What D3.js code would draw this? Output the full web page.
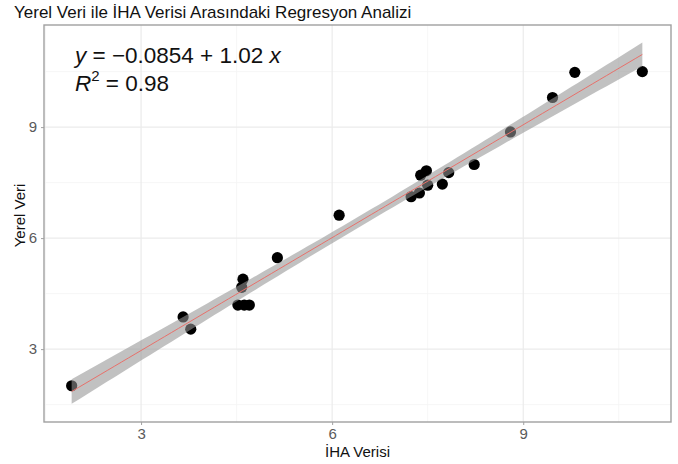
<!DOCTYPE html>
<html>
<head>
<meta charset="utf-8">
<script src="https://cdn.jsdelivr.net/npm/d3@7"></script>
<style>
  body { margin: 0; background: #fff; }
  svg { display: block; font-family: "Liberation Sans", Arial, sans-serif; }
</style>
</head>
<body>
<div id="chart"></div>
<script>
const ihaVerisi = [1.91, 3.66, 3.78, 4.60, 4.58, 4.52, 4.62, 4.70, 5.14, 6.11,
  7.39, 7.48, 7.24, 7.37, 7.50, 7.73, 7.83, 8.23, 8.80, 9.46, 9.81, 10.87]
const yerelVeri = [2.01, 3.87, 3.54, 4.89, 4.67, 4.19, 4.19, 4.19, 5.47, 6.62,
  7.70, 7.82, 7.12, 7.22, 7.43, 7.46, 7.77, 7.99, 8.87, 9.80, 10.48, 10.50]
const xTicks = [3, 6, 9]
const yTicks = [3, 6, 9]
const xMinor = [1.5, 4.5, 7.5, 10.5]
const yMinor = [1.5, 4.5, 7.5, 10.5]

const width = 678
const height = 464
const panel = { left: 44, right: 671, top: 25, bottom: 422 }

const svg = d3.select("#chart").append("svg")
  .attr("width", width)
  .attr("height", height)

const x = d3.scaleLinear().domain([1.476, 11.32]).range([panel.left, panel.right])
const y = d3.scaleLinear().domain([1.03, 11.76]).range([panel.bottom, panel.top])

// grid
const grid = svg.append("g")
grid.selectAll(".xmin").data(xMinor).enter().append("line")
  .attr("x1", d => x(d)).attr("x2", d => x(d))
  .attr("y1", panel.top).attr("y2", panel.bottom)
  .attr("stroke", "#f4f4f4").attr("stroke-width", 0.8)
grid.selectAll(".ymin").data(yMinor).enter().append("line")
  .attr("y1", d => y(d)).attr("y2", d => y(d))
  .attr("x1", panel.left).attr("x2", panel.right)
  .attr("stroke", "#f4f4f4").attr("stroke-width", 0.8)
grid.selectAll(".xmaj").data(xTicks).enter().append("line")
  .attr("x1", d => x(d)).attr("x2", d => x(d))
  .attr("y1", panel.top).attr("y2", panel.bottom)
  .attr("stroke", "#ebebeb").attr("stroke-width", 1.2)
grid.selectAll(".ymaj").data(yTicks).enter().append("line")
  .attr("y1", d => y(d)).attr("y2", d => y(d))
  .attr("x1", panel.left).attr("x2", panel.right)
  .attr("stroke", "#ebebeb").attr("stroke-width", 1.2)

// linear fit with 95% confidence band (like geom_smooth(method = "lm"))
const pts = ihaVerisi.map((v, i) => ({ x: v, y: yerelVeri[i] }))
const n = pts.length
const mx = d3.mean(pts, d => d.x)
const my = d3.mean(pts, d => d.y)
const sxx = d3.sum(pts, d => (d.x - mx) ** 2)
const sxy = d3.sum(pts, d => (d.x - mx) * (d.y - my))
const b1 = sxy / sxx
const b0 = my - b1 * mx
const s = Math.sqrt(d3.sum(pts, d => (d.y - b0 - b1 * d.x) ** 2) / (n - 2))
const tCrit = 2.08
const [xLo, xHi] = d3.extent(ihaVerisi)
const fit = d3.range(0, 81).map(i => {
  const xv = xLo + (xHi - xLo) * i / 80
  const yv = b0 + b1 * xv
  const se = s * Math.sqrt(1 / n + (xv - mx) ** 2 / sxx)
  return { x: xv, y: yv, lo: yv - tCrit * se, hi: yv + tCrit * se }
})

// points
svg.append("g").selectAll("circle").data(pts).enter().append("circle")
  .attr("cx", d => x(d.x))
  .attr("cy", d => y(d.y))
  .attr("r", 5.6)
  .attr("fill", "#000")

svg.append("path").datum(fit)
  .attr("d", d3.area().x(d => x(d.x)).y0(d => y(d.lo)).y1(d => y(d.hi)))
  .attr("fill", "#949494")
  .attr("fill-opacity", 0.58)

svg.append("path").datum(fit)
  .attr("d", d3.line().x(d => x(d.x)).y(d => y(d.y)))
  .attr("fill", "none")
  .attr("stroke", "#e8706a")
  .attr("stroke-width", 1)

// panel border
svg.append("rect")
  .attr("x", panel.left).attr("y", panel.top)
  .attr("width", panel.right - panel.left)
  .attr("height", panel.bottom - panel.top)
  .attr("fill", "none")
  .attr("stroke", "#a0a0a0")
  .attr("stroke-width", 1.4)

// axes
const xAxis = svg.append("g")
  .attr("transform", `translate(0,${panel.bottom})`)
  .call(d3.axisBottom(x).tickValues(xTicks).tickSize(3).tickPadding(3))
const yAxis = svg.append("g")
  .attr("transform", `translate(${panel.left},0)`)
  .call(d3.axisLeft(y).tickValues(yTicks).tickSize(3).tickPadding(4))
;[xAxis, yAxis].forEach(a => {
  a.select(".domain").remove()
  a.selectAll("line").attr("stroke", "#a0a0a0")
  a.selectAll("text")
    .attr("fill", "#5a5a5a")
    .style("font-size", "15px")
    .style("font-family", "'Liberation Sans', Arial, sans-serif")
})

// titles
svg.append("text")
  .attr("x", 14).attr("y", 18)
  .attr("font-size", 17)
  .attr("fill", "#111")
  .text("Yerel Veri ile İHA Verisi Arasındaki Regresyon Analizi")

svg.append("text")
  .attr("x", (panel.left + panel.right) / 2)
  .attr("y", 457)
  .attr("text-anchor", "middle")
  .attr("font-size", 15)
  .attr("fill", "#111")
  .text("İHA Verisi")

svg.append("text")
  .attr("transform", `translate(25,${(panel.top + panel.bottom) / 2 - 8}) rotate(-90)`)
  .attr("text-anchor", "middle")
  .attr("font-size", 15)
  .attr("fill", "#111")
  .text("Yerel Veri")

// equation label
const eq = svg.append("text")
  .attr("x", 75).attr("y", 63)
  .attr("font-size", 22.5)
  .attr("fill", "#111")
eq.append("tspan").attr("font-style", "italic").text("y")
eq.append("tspan").text(" = \u22120.0854 + 1.02 ")
eq.append("tspan").attr("font-style", "italic").text("x")

const r2 = svg.append("text")
  .attr("x", 75).attr("y", 91)
  .attr("font-size", 22.5)
  .attr("fill", "#111")
r2.append("tspan").attr("font-style", "italic").text("R")
r2.append("tspan").attr("font-size", 15).attr("dy", -10).text("2")
r2.append("tspan").attr("dy", 10).text(" = 0.98")
</script>
</body>
</html>
